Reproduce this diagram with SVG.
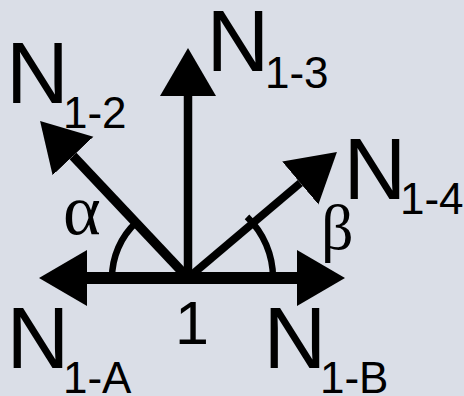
<svg xmlns="http://www.w3.org/2000/svg" width="464" height="396" viewBox="0 0 464 396">
  <defs>
    <marker id="head" markerUnits="userSpaceOnUse" markerWidth="50" markerHeight="60" viewBox="0 -30 50 60" refX="0" refY="0" orient="auto">
      <path d="M0,-28 L48,0 L0,28 Z" fill="#000"/>
    </marker>
    <style>
      .ln { stroke: #000; fill: none; marker-end: url(#head); }
      .arc { stroke: #000; fill: none; stroke-width: 6.5; }
      .big { font-family: "Liberation Sans", Arial, sans-serif; font-size: 87px; fill: #000; }
      .sub { font-family: "Liberation Sans", Arial, sans-serif; font-size: 44px; fill: #000; }
      .num { font-family: "Liberation Sans", Arial, sans-serif; font-size: 61px; fill: #000; }
      .greek { font-family: "Liberation Serif", "Times New Roman", serif; font-size: 64px; fill: #000; }
    </style>
  </defs>
  <rect width="464" height="396" fill="#dadee7"/>
  <g id="connectors">
    <line class="ln" x1="188" y1="278" x2="87" y2="278" stroke-width="12"/>
    <line class="ln" x1="188" y1="278" x2="297" y2="278" stroke-width="12"/>
    <line class="ln" x1="188" y1="278" x2="188" y2="96" stroke-width="8.5"/>
    <line class="ln" x1="188" y1="278" x2="73" y2="156" stroke-width="9.5"/>
    <line class="ln" x1="188" y1="278" x2="300.3" y2="183" stroke-width="8"/>
    <path class="arc" d="M112,278 A76,76 0 0 1 135.9,222.7"/>
    <path class="arc" d="M273,278 A85,85 0 0 0 247,216.9"/>
  </g>
  <g id="node-1">
    <text class="num" x="175" y="344">1</text>
  </g>
  <g id="node-N1-2">
    <text class="big" x="6" y="103">N</text>
    <text class="sub" x="63" y="128">1-2</text>
  </g>
  <g id="node-N1-3">
    <text class="big" x="206.5" y="71">N</text>
    <text class="sub" x="265" y="88">1-3</text>
  </g>
  <g id="node-N1-4">
    <text class="big" x="343.5" y="199">N</text>
    <text class="sub" x="400" y="214">1-4</text>
  </g>
  <g id="node-N1-A">
    <text class="big" x="6.5" y="368">N</text>
    <text class="sub" x="63" y="393">1-A</text>
  </g>
  <g id="node-N1-B">
    <text class="big" x="263.5" y="368">N</text>
    <text class="sub" x="320" y="393">1-B</text>
  </g>
  <g id="label-alpha">
    <text class="greek" x="63" y="234" style="font-size:72px">α</text>
  </g>
  <g id="label-beta">
    <text class="greek" x="321" y="249">β</text>
  </g>
</svg>
